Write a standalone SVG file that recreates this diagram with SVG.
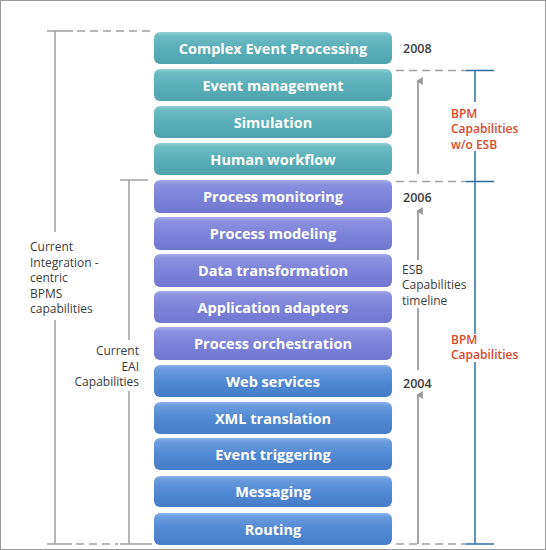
<svg xmlns="http://www.w3.org/2000/svg" width="546" height="550" viewBox="0 0 546 550">
<defs>
<linearGradient id="gT" x1="0" y1="0" x2="0" y2="1">
<stop offset="0" stop-color="#8fd0d5"/><stop offset="0.12" stop-color="#6dbcc3"/><stop offset="0.5" stop-color="#5aafb8"/><stop offset="1" stop-color="#4fa3ad"/>
</linearGradient>
<linearGradient id="gP" x1="0" y1="0" x2="0" y2="1">
<stop offset="0" stop-color="#a8aeec"/><stop offset="0.12" stop-color="#8b92e0"/><stop offset="0.5" stop-color="#7c84da"/><stop offset="1" stop-color="#6f77cf"/>
</linearGradient>
<linearGradient id="gB" x1="0" y1="0" x2="0" y2="1">
<stop offset="0" stop-color="#8db3e8"/><stop offset="0.12" stop-color="#6a9bde"/><stop offset="0.5" stop-color="#5289d3"/><stop offset="1" stop-color="#477dc8"/>
</linearGradient>
<marker id="ah" viewBox="0 0 10 10" refX="5" refY="2" markerWidth="8" markerHeight="8" orient="auto-start-reverse" markerUnits="userSpaceOnUse">
<path d="M0,8 L5,0 L10,8 Z" fill="#999"/>
</marker>
<style>
.bx{stroke:none}
.t{fill:#ffffff;font-family:"Open Sans","Liberation Sans",sans-serif;font-weight:bold;font-size:14.5px;text-anchor:middle}
.lbl{fill:#3c3c3c;font-family:"Open Sans","Liberation Sans",sans-serif;font-size:12px}
.yr{fill:#3c3c3c;font-family:"Open Sans","Liberation Sans",sans-serif;font-size:12.5px;font-weight:600}
.red{fill:#d9492b;font-family:"Open Sans","Liberation Sans",sans-serif;font-size:12px;font-weight:600}
.g{stroke:#a0a0a0;stroke-width:1.5;fill:none}
.gd{stroke:#a0a0a0;stroke-width:1.5;fill:none;stroke-dasharray:8,5}
.bl{stroke:#2e6ea6;stroke-width:1.5;fill:none}
.ar{stroke:#a5a5a5;stroke-width:2;fill:none}
</style>
</defs>
<rect x="0.5" y="0.5" width="545" height="549" fill="#ffffff" stroke="#9a9a9a" stroke-width="1"/>

<g id="n1"><rect class="bx" x="154" y="32" width="238" height="32" rx="6" fill="url(#gT)"/><text class="t" x="273" y="53.5">Complex Event Processing</text></g>
<g id="n2"><rect class="bx" x="154" y="69" width="238" height="32" rx="6" fill="url(#gT)"/><text class="t" x="273" y="90.5">Event management</text></g>
<g id="n3"><rect class="bx" x="154" y="106" width="238" height="32" rx="6" fill="url(#gT)"/><text class="t" x="273" y="127.5">Simulation</text></g>
<g id="n4"><rect class="bx" x="154" y="143" width="238" height="32" rx="6" fill="url(#gT)"/><text class="t" x="273" y="164.5">Human workflow</text></g>
<g id="n5"><rect class="bx" x="154" y="180" width="238" height="33" rx="6" fill="url(#gP)"/><text class="t" x="273" y="201.5">Process monitoring</text></g>
<g id="n6"><rect class="bx" x="154" y="217" width="238" height="33" rx="6" fill="url(#gP)"/><text class="t" x="273" y="238.5">Process modeling</text></g>
<g id="n7"><rect class="bx" x="154" y="254" width="238" height="33" rx="6" fill="url(#gP)"/><text class="t" x="273" y="275.5">Data transformation</text></g>
<g id="n8"><rect class="bx" x="154" y="291" width="238" height="32" rx="6" fill="url(#gP)"/><text class="t" x="273" y="312.5">Application adapters</text></g>
<g id="n9"><rect class="bx" x="154" y="327" width="238" height="33" rx="6" fill="url(#gP)"/><text class="t" x="273" y="349">Process orchestration</text></g>
<g id="n10"><rect class="bx" x="154" y="365" width="238" height="32" rx="6" fill="url(#gB)"/><text class="t" x="273" y="386.5">Web services</text></g>
<g id="n11"><rect class="bx" x="154" y="402" width="238" height="32" rx="6" fill="url(#gB)"/><text class="t" x="273" y="423.5">XML translation</text></g>
<g id="n12"><rect class="bx" x="154" y="438" width="238" height="32" rx="6" fill="url(#gB)"/><text class="t" x="273" y="459.5">Event triggering</text></g>
<g id="n13"><rect class="bx" x="154" y="476" width="238" height="31" rx="6" fill="url(#gB)"/><text class="t" x="273" y="497">Messaging</text></g>
<g id="n14"><rect class="bx" x="154" y="513" width="238" height="32" rx="6" fill="url(#gB)"/><text class="t" x="273" y="534.5">Routing</text></g>

<g id="connectors">
<path class="g" d="M47,31 H73 M55,31 V232 M55,320 V544 M47,544 H72"/>
<path class="gd" d="M77,31 H153"/>
<path class="gd" d="M76,544 H118"/>
<path class="g" d="M120,180 H148 M129,180 V340 M129,391 V544 M120,544 H152"/>
<path class="gd" d="M396,70.5 H466 M396,181.5 H466 M396,544 H466"/>
<path class="ar" d="M418,544 V395" marker-end="url(#ah)"/>
<path class="ar" d="M418,370 V308"/>
<path class="ar" d="M418,260 V211" marker-end="url(#ah)"/>
<path class="ar" d="M418,174 V81" marker-end="url(#ah)"/>
<path class="bl" d="M466,70.5 H494 M466,181.5 H494 M466,544 H494 M475,70.5 V102 M475,151 V334 M475,362 V544"/>
</g>

<g id="labels">
<text class="lbl" x="30" y="251">Current</text>
<text class="lbl" x="30" y="266.5">Integration -</text>
<text class="lbl" x="30" y="282">centric</text>
<text class="lbl" x="30" y="297.5">BPMS</text>
<text class="lbl" x="30" y="313">capabilities</text>
<text class="lbl" x="139" y="355" text-anchor="end">Current</text>
<text class="lbl" x="139" y="370.5" text-anchor="end">EAI</text>
<text class="lbl" x="139" y="386" text-anchor="end">Capabilities</text>
<text class="yr" x="403" y="53">2008</text>
<text class="yr" x="403" y="202">2006</text>
<text class="yr" x="403" y="388">2004</text>
<text class="lbl" x="402" y="273.5">ESB</text>
<text class="lbl" x="402" y="289">Capabilities</text>
<text class="lbl" x="402" y="304.5">timeline</text>
<text class="red" x="451" y="117.5">BPM</text>
<text class="red" x="451" y="133">Capabilities</text>
<text class="red" x="451" y="148.5">w/o ESB</text>
<text class="red" x="451" y="343.5">BPM</text>
<text class="red" x="451" y="359">Capabilities</text>
</g>
</svg>
